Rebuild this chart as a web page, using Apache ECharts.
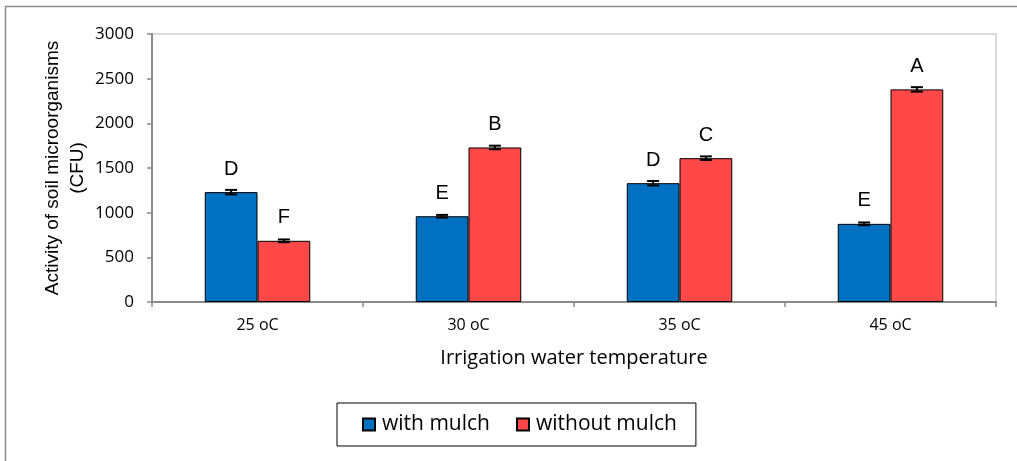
<!DOCTYPE html>
<html>
<head>
<meta charset="utf-8">
<script src="https://cdn.jsdelivr.net/npm/echarts@6/dist/echarts.min.js"></script>
<style>
html,body{margin:0;padding:0;background:#fff;}
#chart{width:1017px;height:461px;}
</style>
</head>
<body>
<div id="chart"></div>
<script>
var categories = ['25 oC', '30 oC', '35 oC', '45 oC'];
var withMulch = [1230, 960, 1330, 875];
var withoutMulch = [685, 1730, 1610, 2380];
var withErr = [25, 15, 25, 15];
var withoutErr = [15, 20, 20, 25];
var withLetters = ['D', 'E', 'D', 'E'];
var withoutLetters = ['F', 'B', 'C', 'A'];
var yTicks = [0, 500, 1000, 1500, 2000, 2500, 3000];

var chart = echarts.init(document.getElementById('chart'));

function errSeries(name, values, errs, side) {
  return {
    type: 'custom',
    name: name + ' err',
    z: 10,
    silent: true,
    data: values.map(function (v, i) { return [i, v, errs[i]]; }),
    renderItem: function (params, api) {
      var band = api.size([1, 0])[0];
      var off = side * band * 0.125;
      var c = api.coord([api.value(0), api.value(1)]);
      var hi = api.coord([api.value(0), api.value(1) + api.value(2)]);
      var lo = api.coord([api.value(0), api.value(1) - api.value(2)]);
      var x = c[0] + off;
      var hw = 6;
      var st = { stroke: '#000', lineWidth: 2 };
      return {
        type: 'group',
        children: [
          { type: 'line', shape: { x1: x, y1: hi[1], x2: x, y2: lo[1] }, style: st },
          { type: 'line', shape: { x1: x - hw, y1: hi[1], x2: x + hw, y2: hi[1] }, style: st },
          { type: 'line', shape: { x1: x - hw, y1: lo[1], x2: x + hw, y2: lo[1] }, style: st }
        ]
      };
    }
  };
}

var option = {
  animation: false,
  backgroundColor: '#fff',
  graphic: [{
    type: 'rect',
    left: 3, top: 4,
    shape: { width: 1030, height: 470 },
    style: { fill: 'none', stroke: '#8a8a8a', lineWidth: 1.5 },
    silent: true
  }],
  grid: { left: 152, right: 21, top: 34, bottom: 159, show: true, borderColor: '#d0d0d0', borderWidth: 1.5, backgroundColor: 'transparent' },
  legend: {
    left: 337, top: 403,
    padding: [11, 19, 11, 25],
    borderColor: '#000', borderWidth: 1,
    itemWidth: 12, itemHeight: 12, itemGap: 26,
    textStyle: { fontSize: 21, color: '#000', fontFamily: 'Open Sans', padding: [0, 0, 0, 2] },
    data: [
      { name: 'with mulch', icon: 'rect' },
      { name: 'without mulch', icon: 'rect' }
    ]
  },
  xAxis: {
    type: 'category',
    data: categories,
    name: 'Irrigation water temperature',
    nameLocation: 'middle',
    nameGap: 46,
    nameMoveOverlap: false,
    nameTextStyle: { fontSize: 20, color: '#000', fontFamily: 'Open Sans' },
    axisLine: { lineStyle: { color: '#8c8c8c', width: 2 } },
    axisTick: { show: true, length: 5, lineStyle: { color: '#8c8c8c', width: 1.5 } },
    axisLabel: { fontSize: 16, color: '#000', margin: 15, fontFamily: 'Open Sans' }
  },
  yAxis: {
    type: 'value',
    min: 0, max: 3000, interval: 500,
    name: 'Activity of soil microorganisms\n(CFU)',
    nameLocation: 'middle',
    nameGap: 62,
    nameMoveOverlap: false,
    nameTextStyle: { fontSize: 19, color: '#000', lineHeight: 25, fontFamily: 'Liberation Sans' },
    axisLine: { show: true, lineStyle: { color: '#8c8c8c', width: 2 } },
    axisTick: { show: true, length: 5, lineStyle: { color: '#8c8c8c', width: 1.5 } },
    axisLabel: {
      fontSize: 17, color: '#000', margin: 18, fontFamily: 'Open Sans',
      formatter: function (v) { return yTicks.indexOf(v) >= 0 ? String(v) : ''; }
    },
    splitLine: { show: false }
  },
  series: [
    {
      name: 'with mulch',
      type: 'bar',
      data: withMulch,
      barGap: '0%',
      barCategoryGap: '50%',
      itemStyle: { color: '#0070C0', borderColor: '#000', borderWidth: 1 },
      label: {
        show: true, position: 'top', distance: 13,
        fontSize: 20, color: '#000', fontFamily: 'Liberation Sans',
        formatter: function (p) { return withLetters[p.dataIndex]; }
      }
    },
    {
      name: 'without mulch',
      type: 'bar',
      data: withoutMulch,
      barGap: '0%',
      barCategoryGap: '50%',
      itemStyle: { color: '#FF4848', borderColor: '#000', borderWidth: 1 },
      label: {
        show: true, position: 'top', distance: 13,
        fontSize: 20, color: '#000', fontFamily: 'Liberation Sans',
        formatter: function (p) { return withoutLetters[p.dataIndex]; }
      }
    },
    errSeries('with mulch', withMulch, withErr, -1),
    errSeries('without mulch', withoutMulch, withoutErr, 1)
  ]
};
chart.setOption(option);
</script>
</body>
</html>
